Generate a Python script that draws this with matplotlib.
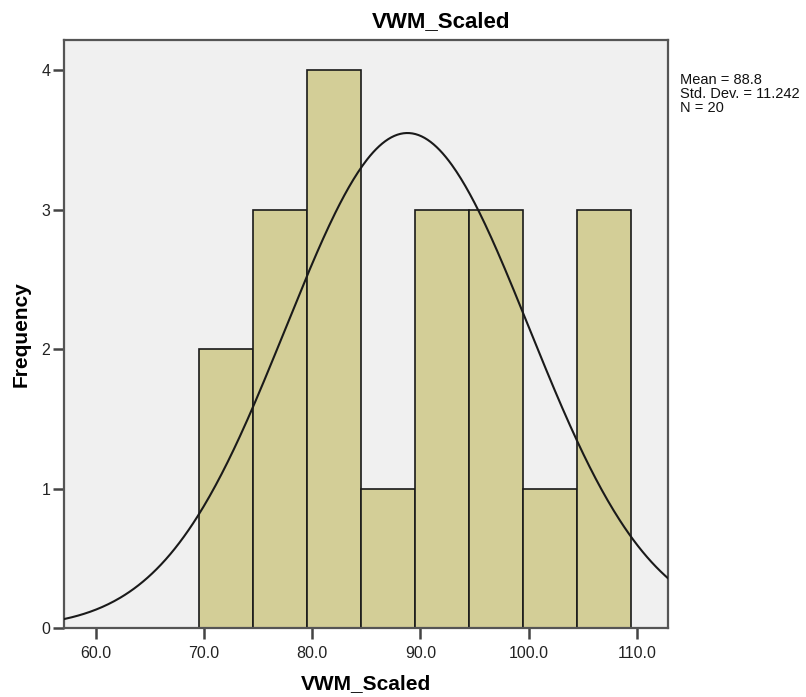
import numpy as np
import matplotlib.pyplot as plt

plt.rcParams['font.family'] = ['Liberation Sans', 'DejaVu Sans']

# histogram bins (edges) and counts
bin_edges = [69.5, 74.5, 79.5, 84.5, 89.5, 94.5, 99.5, 104.5, 109.5]
counts = [2, 3, 4, 1, 3, 3, 1, 3]

mean = 88.8
std = 11.242
n = 20

x_ticks = [60.0, 70.0, 80.0, 90.0, 100.0, 110.0]
y_ticks = [0, 1, 2, 3, 4]

fig = plt.figure(figsize=(8.06, 6.97), dpi=100)
ax = fig.add_axes([64.3 / 806, 1 - 628.3 / 697, 604 / 806, 588 / 697])
ax.set_facecolor('#F0F0F0')

widths = np.diff(bin_edges)
ax.bar(bin_edges[:-1], counts, width=widths, align='edge',
       color='#D3CE97', edgecolor='#1a1a1a', linewidth=1.2, zorder=2)

# normal curve scaled to the histogram
bw = widths[0]
xs = np.linspace(57.1, 112.9, 400)
ys = n * bw / (std * np.sqrt(2 * np.pi)) * np.exp(-0.5 * ((xs - mean) / std) ** 2)
ax.plot(xs, ys, color='#1a1a1a', linewidth=1.5, zorder=3)

ax.set_xlim(57.1, 112.9)
ax.set_ylim(0, 4.213)
ax.set_xticks(x_ticks)
ax.set_xticklabels([f'{v:.1f}' for v in x_ticks])
ax.set_yticks(y_ticks)

for s in ax.spines.values():
    s.set_color('#555555')
    s.set_linewidth(1.6)

ax.tick_params(axis='both', direction='out', length=8, width=1.8,
               color='#444444', labelsize=11.5, labelcolor='#222222')
ax.tick_params(axis='x', pad=5)
ax.tick_params(axis='y', pad=2)

ax.set_xlabel('VWM_Scaled', fontsize=15, fontweight='bold', labelpad=9)
ax.set_ylabel('Frequency', fontsize=15, fontweight='bold', labelpad=8)

fig.text(441.5 / 806, 1 - 22 / 697, 'VWM_Scaled', fontsize=16,
         fontweight='bold', ha='center', va='center')

fig.text(680 / 806, 1 - 73 / 697,
         f'Mean = {mean}\nStd. Dev. = {std}\nN = {n}',
         fontsize=10.5, ha='left', va='top', linespacing=1.02, color='#111111')

fig.savefig('out.png', dpi=100)
